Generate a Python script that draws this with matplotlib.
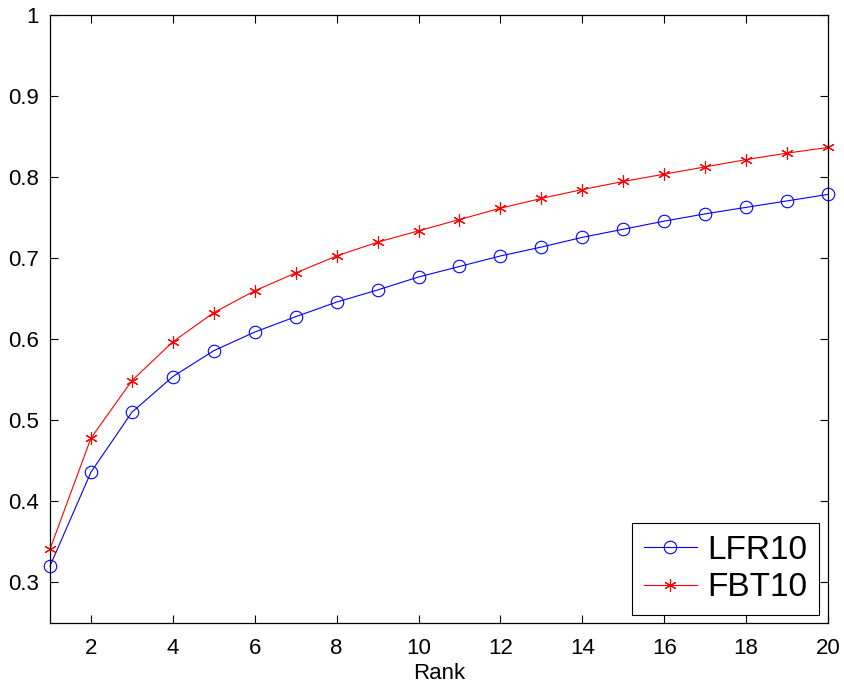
import numpy as np
import matplotlib
matplotlib.use("Agg")
import matplotlib.pyplot as plt

plt.rcParams['font.family'] = ['Liberation Sans', 'DejaVu Sans']

# data
rank = list(range(1, 21))
lfr10 = [0.320, 0.436, 0.510, 0.554, 0.586, 0.609, 0.628, 0.646, 0.661, 0.677,
         0.690, 0.703, 0.714, 0.726, 0.736, 0.746, 0.755, 0.763, 0.771, 0.779]
fbt10 = [0.341, 0.478, 0.549, 0.597, 0.633, 0.660, 0.682, 0.703, 0.720, 0.734,
         0.748, 0.762, 0.774, 0.785, 0.795, 0.804, 0.813, 0.822, 0.830, 0.837]
xticks = list(range(2, 21, 2))
yticks = [0.3, 0.4, 0.5, 0.6, 0.7, 0.8, 0.9, 1.0]
ytick_labels = ["0.3", "0.4", "0.5", "0.6", "0.7", "0.8", "0.9", "1"]

fig = plt.figure(figsize=(8.45, 6.91), dpi=100)
ax = fig.add_axes([0.0592, 0.0988, 0.9207, 0.8788])

ax.plot(rank, lfr10, color='#0000ff', lw=0.8, marker='o', ms=9,
        mfc='none', mec='#0000ff', mew=0.8, label='LFR10', clip_on=False)
ax.plot(rank, fbt10, color='#ff0000', lw=0.8, marker=(6, 2, 0), ms=9,
        mec='#ff0000', mew=0.8, label='FBT10', clip_on=False)

ax.set_xlim(1, 20)
ax.set_ylim(0.25, 1.0)
ax.set_xticks(xticks)
ax.set_yticks(yticks)
ax.set_yticklabels(ytick_labels)
ax.tick_params(direction='in', length=6, width=0.8, labelsize=16,
               top=True, right=True, pad=8)
ax.tick_params(axis='x', pad=11)
for s in ax.spines.values():
    s.set_linewidth(0.9)

ax.set_xlabel("Rank", fontsize=16, labelpad=3)

leg = ax.legend(loc='lower right', bbox_to_anchor=(0.988, 0.013),
                borderaxespad=0, fontsize=24, numpoints=1, fancybox=False,
                edgecolor='black', handlelength=1.6, handletextpad=0.3,
                borderpad=0.35, labelspacing=0.2, framealpha=1)
leg.get_frame().set_linewidth(0.8)

fig.savefig("out.png", dpi=100)
